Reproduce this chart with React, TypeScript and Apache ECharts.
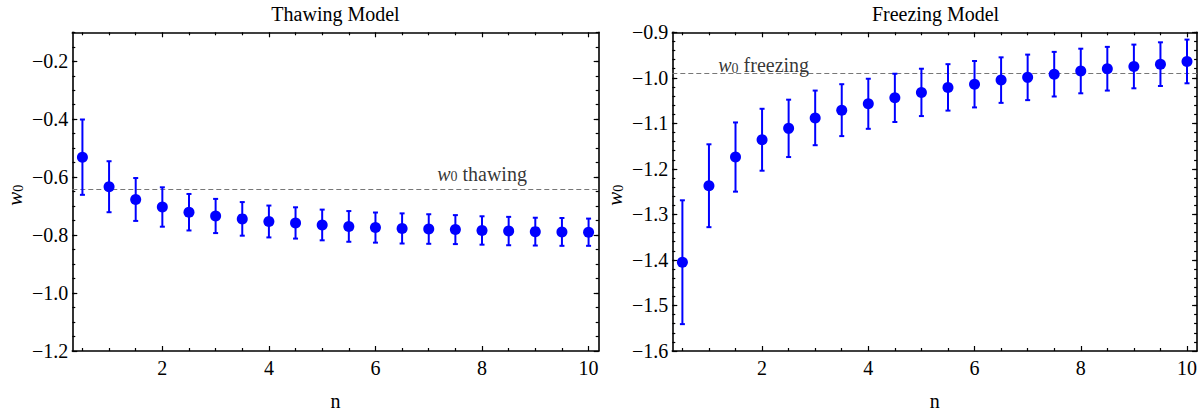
import React, { useEffect, useRef } from "react";
import * as echarts from "echarts";

// ---- data ----
const nValues = [0.5, 1, 1.5, 2, 2.5, 3, 3.5, 4, 4.5, 5, 5.5, 6, 6.5, 7, 7.5, 8, 8.5, 9, 9.5, 10];

const thawW0 = [-0.531, -0.633, -0.677, -0.703, -0.721, -0.734, -0.744, -0.753, -0.758, -0.765, -0.770, -0.774, -0.777, -0.779, -0.781, -0.784, -0.786, -0.788, -0.789, -0.790];
const thawErr = [0.130, 0.088, 0.074, 0.068, 0.063, 0.059, 0.058, 0.055, 0.054, 0.053, 0.053, 0.052, 0.052, 0.051, 0.050, 0.049, 0.049, 0.048, 0.048, 0.047];

const freezeW0 = [-1.405, -1.237, -1.174, -1.136, -1.111, -1.088, -1.071, -1.057, -1.044, -1.032, -1.021, -1.014, -1.005, -0.999, -0.992, -0.985, -0.980, -0.975, -0.970, -0.964];
const freezeErr = [0.136, 0.091, 0.076, 0.068, 0.063, 0.060, 0.057, 0.055, 0.053, 0.052, 0.051, 0.051, 0.050, 0.050, 0.049, 0.049, 0.048, 0.048, 0.048, 0.048];

const thawRef = -0.64;
const freezeRef = -0.993;

const thawLabelPos = [8.0, -0.585];
const freezeLabelPos = [2.03, -0.970];

const xRange = [0.31, 10.19];
const thawYRange = [-1.2, -0.1];
const freezeYRange = [-1.6, -0.9];

const xMajorTicks = [2, 4, 6, 8, 10];
const thawYMajorTicks = [-1.2, -1.0, -0.8, -0.6, -0.4, -0.2];
const freezeYMajorTicks = [-1.6, -1.5, -1.4, -1.3, -1.2, -1.1, -1.0, -0.9];

const titles = ["Thawing Model", "Freezing Model"];

// ---- helpers ----
function steps(from: number, to: number, step: number): number[] {
  const out: number[] = [];
  const n = Math.round((to - from) / step);
  for (let i = 0; i <= n; i++) out.push(+(from + i * step).toFixed(4));
  return out;
}

const xMinorTicks = steps(0.5, 10, 0.5).filter((v) => !xMajorTicks.includes(v));
const thawYMinorTicks = steps(-1.15, -0.1, 0.05);
const freezeYMinorTicks = steps(-1.58, -0.9, 0.02);

const FONT = "Liberation Serif";
const FS = 20;
const BLUE = "#0000ff";

const fmtY = (v: number) => (v < 0 ? "\u2212" : "") + Math.abs(v).toFixed(1);

export default function App() {
  const ref = useRef<HTMLDivElement>(null);

  useEffect(() => {
    if (!ref.current) return;
    const chart = echarts.init(ref.current, undefined, { renderer: "svg" });

    const grids = [
      { left: 72.3, top: 32.3, width: 526.4, height: 325.7 },
      { left: 672.3, top: 32.3, width: 526.4, height: 325.7 },
    ];

    const xAxes: any[] = [];
    const yAxes: any[] = [];
    const lineStyle = { color: "#000", width: 1.6 };
    const tickStyle = { color: "#000", width: 1.2 };

    const panels = [
      { yRange: thawYRange, yMajor: thawYMajorTicks, yMinor: thawYMinorTicks, w0: thawW0, err: thawErr, ref: thawRef, labelPos: thawLabelPos, label: "thawing" },
      { yRange: freezeYRange, yMajor: freezeYMajorTicks, yMinor: freezeYMinorTicks, w0: freezeW0, err: freezeErr, ref: freezeRef, labelPos: freezeLabelPos, label: "freezing" },
    ];

    panels.forEach((p, gi) => {
      const base = { type: "value", gridIndex: gi, min: xRange[0], max: xRange[1], splitLine: { show: false } };
      xAxes.push({
        ...base,
        position: "bottom",
        name: "n",
        nameLocation: "middle",
        nameGap: 40,
        nameTextStyle: { fontFamily: FONT, fontSize: FS, color: "#000" },
        axisLine: { show: true, lineStyle },
        axisTick: { show: true, inside: true, length: 5, customValues: xMajorTicks, lineStyle: tickStyle },
        axisLabel: { show: true, customValues: xMajorTicks, margin: 7, fontFamily: FONT, fontSize: FS, color: "#000", formatter: (v: number) => String(v) },
      });
      xAxes.push({
        ...base,
        position: "bottom",
        axisLine: { show: false },
        axisTick: { show: true, inside: true, length: 3, customValues: xMinorTicks, lineStyle: tickStyle },
        axisLabel: { show: false },
      });
      xAxes.push({
        ...base,
        position: "top",
        axisLine: { show: true, lineStyle },
        axisTick: { show: true, inside: true, length: 5, customValues: xMajorTicks, lineStyle: tickStyle },
        axisLabel: { show: false },
      });
      xAxes.push({
        ...base,
        position: "top",
        axisLine: { show: false },
        axisTick: { show: true, inside: true, length: 3, customValues: xMinorTicks, lineStyle: tickStyle },
        axisLabel: { show: false },
      });

      const ybase = { type: "value", gridIndex: gi, min: p.yRange[0], max: p.yRange[1], splitLine: { show: false } };
      yAxes.push({
        ...ybase,
        position: "left",
        axisLine: { show: true, lineStyle },
        axisTick: { show: true, inside: true, length: 5, customValues: p.yMajor, lineStyle: tickStyle },
        axisLabel: { show: true, customValues: p.yMajor, margin: 4, fontFamily: FONT, fontSize: FS, color: "#000", formatter: fmtY },
      });
      yAxes.push({
        ...ybase,
        position: "left",
        axisLine: { show: false },
        axisTick: { show: true, inside: true, length: 3, customValues: p.yMinor, lineStyle: tickStyle },
        axisLabel: { show: false },
      });
      yAxes.push({
        ...ybase,
        position: "right",
        axisLine: { show: true, lineStyle },
        axisTick: { show: true, inside: true, length: 5, customValues: p.yMajor, lineStyle: tickStyle },
        axisLabel: { show: false },
      });
      yAxes.push({
        ...ybase,
        position: "right",
        axisLine: { show: false },
        axisTick: { show: true, inside: true, length: 3, customValues: p.yMinor, lineStyle: tickStyle },
        axisLabel: { show: false },
      });
    });

    const series: any[] = [];
    panels.forEach((p, gi) => {
      const xi = gi * 4;
      const yi = gi * 4;
      series.push({
        type: "custom",
        xAxisIndex: xi,
        yAxisIndex: yi,
        data: nValues.map((n, i) => [n, p.w0[i] - p.err[i], p.w0[i] + p.err[i]]),
        encode: { x: 0, y: [1, 2] },
        renderItem: (params: any, api: any) => {
          const x = api.value(0);
          const lo = api.coord([x, api.value(1)]);
          const hi = api.coord([x, api.value(2)]);
          const hw = 2.5;
          const st = { stroke: BLUE, lineWidth: 2 };
          return {
            type: "group",
            children: [
              { type: "line", shape: { x1: hi[0], y1: hi[1], x2: lo[0], y2: lo[1] }, style: st },
              { type: "line", shape: { x1: hi[0] - hw, y1: hi[1], x2: hi[0] + hw, y2: hi[1] }, style: st },
              { type: "line", shape: { x1: lo[0] - hw, y1: lo[1], x2: lo[0] + hw, y2: lo[1] }, style: st },
            ],
          };
        },
        z: 2,
      });
      series.push({
        type: "scatter",
        xAxisIndex: xi,
        yAxisIndex: yi,
        symbol: "circle",
        symbolSize: 11,
        itemStyle: { color: BLUE, opacity: 1 },
        data: nValues.map((n, i) => [n, p.w0[i]]),
        z: 3,
        markLine: {
          silent: true,
          symbol: ["none", "none"],
          label: { show: false },
          lineStyle: { color: "#777", type: [5, 3], width: 1 },
          data: [{ yAxis: p.ref }],
          z: 1,
        },
      });
      series.push({
        type: "scatter",
        xAxisIndex: xi,
        yAxisIndex: yi,
        symbolSize: 0,
        silent: true,
        data: [p.labelPos],
        label: {
          show: true,
          position: "inside",
          formatter: "{w|w}{s|0}{t| " + p.label + "}",
          rich: {
            w: { fontFamily: FONT, fontStyle: "italic", fontSize: FS, color: "#000", verticalAlign: "bottom" },
            s: { fontFamily: FONT, fontSize: 14, color: "#000", padding: [8, 0, 0, 0], verticalAlign: "bottom" },
            t: { fontFamily: FONT, fontSize: FS, color: "#000", verticalAlign: "bottom" },
          },
        },
      });
    });

    const graphics: any[] = [];
    grids.forEach((g, gi) => {
      graphics.push({
        type: "text",
        x: g.left + g.width / 2,
        y: 14,
        style: { text: titles[gi], fontFamily: FONT, fontSize: FS, fill: "#000", align: "center", verticalAlign: "middle" },
      });
      graphics.push({
        type: "text",
        x: g.left - 58,
        y: g.top + g.height / 2,
        rotation: Math.PI / 2,
        style: {
          text: "{w|w}{s|0}",
          align: "center",
          verticalAlign: "middle",
          rich: {
            w: { fontFamily: FONT, fontStyle: "italic", fontSize: 21, fill: "#000", verticalAlign: "bottom" },
            s: { fontFamily: FONT, fontSize: 14, fill: "#000", padding: [8, 0, 0, 0], verticalAlign: "bottom" },
          },
        },
      });
    });

    chart.setOption({
      animation: false,
      backgroundColor: "#fff",
      grid: grids.map((g) => ({ ...g, show: false, containLabel: false })),
      xAxis: xAxes,
      yAxis: yAxes,
      series,
      graphic: graphics,
    });

    return () => chart.dispose();
  }, []);

  return <div ref={ref} style={{ position: "absolute", left: 0, top: 0, width: 1200, height: 416 }} />;
}
